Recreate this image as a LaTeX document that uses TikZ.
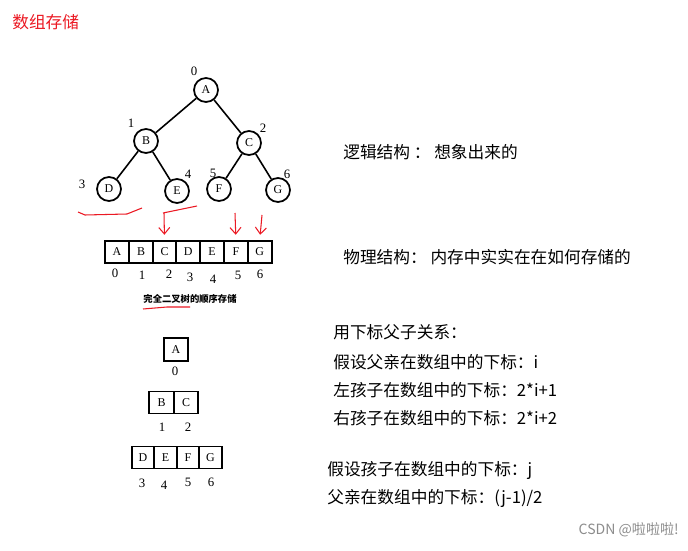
\documentclass[tikz,border=0pt]{standalone}
\usepackage{fontspec}
\setmainfont{Liberation Serif}
\newfontfamily\cjk{Noto Sans CJK SC}
\usetikzlibrary{arrows.meta}
\definecolor{markred}{RGB}{235,25,35}
\definecolor{wmgray}{RGB}{140,140,140}

\begin{document}
\begin{tikzpicture}[
  x=0.02cm,y=-0.02cm,
  vert/.style={draw,circle,line width=1pt,minimum size=0.48cm,inner sep=0pt,font=\fontsize{6.8}{7}\selectfont},
  edge/.style={line width=0.9pt},
  idx/.style={inner sep=0pt,font=\fontsize{7.3}{8}\selectfont},
  cell/.style={draw,line width=1.1pt,minimum width=0.476cm,minimum height=0.44cm,inner sep=0pt,font=\fontsize{6.8}{7}\selectfont},
  scell/.style={cell,minimum width=0.45cm},
  txt/.style={anchor=west,inner sep=0pt,font=\cjk\fontsize{9.5}{11}\selectfont},
  redline/.style={markred,line width=0.6pt},
  redarr/.style={redline,-{Straight Barb[length=1.3mm,width=2.2mm]},shorten >=3pt}
]
\useasboundingbox (0,0) rectangle (688,550);

\node[anchor=west,inner sep=0pt,text=markred,font=\cjk\fontsize{9.5}{11}\selectfont] (title) at (12,22) {数组存储};

% logical structure: the tree
\node[vert] (A) at (206,90) {A};
\node[vert] (B) at (146,141) {B};
\node[vert] (C) at (249,143) {C};
\node[vert] (D) at (109,189) {D};
\node[vert] (E) at (177,191) {E};
\node[vert] (F) at (219,189) {F};
\node[vert] (G) at (278,190) {G};
\draw[edge] (A) -- (B);
\draw[edge] (A) -- (C);
\draw[edge] (B) -- (D);
\draw[edge] (B) -- (E);
\draw[edge] (C) -- (F);
\draw[edge] (C) -- (G);

\node[idx] (t0) at (194,71) {0};
\node[idx] (t1) at (131,123) {1};
\node[idx] (t2) at (263,128) {2};
\node[idx] (t3) at (82,184) {3};
\node[idx] (t4) at (188,174) {4};
\node[idx] (t5) at (213,173) {5};
\node[idx] (t6) at (287,174) {6};

% physical structure: the array
\node[cell] (a0) at (117,252) {A};
\node[cell] (a1) at (141,252) {B};
\node[cell] (a2) at (164.5,252) {C};
\node[cell] (a3) at (188.3,252) {D};
\node[cell] (a4) at (212.1,252) {E};
\node[cell] (a5) at (235.9,252) {F};
\node[cell] (a6) at (259.7,252) {G};

\node[idx] (i0) at (115,273) {0};
\node[idx] (i1) at (142,275) {1};
\node[idx] (i2) at (169,274) {2};
\node[idx] (i3) at (190,277) {3};
\node[idx] (i4) at (213,279) {4};
\node[idx] (i5) at (238,275) {5};
\node[idx] (i6) at (260,274) {6};

\node[font=\cjk\bfseries\fontsize{5.3}{6}\selectfont,inner sep=0pt] (cap) at (190,299) {完全二叉树的顺序存储};

% red marks
\draw[redline] (78,212) -- (85,215) -- (127,214) -- (142,208);
\draw[redline] (197,206) -- (163,213);
\draw[redarr] (164,213) -- (a2.north);
\draw[redarr] (235,213) -- (a5.north);
\draw[redarr] (262,215) -- (a6.north);
\draw[redline] (143,309) -- (167,307) -- (190,307);

% level by level
\node[scell,minimum width=0.468cm,minimum height=0.454cm] (l0) at (176,349.7) {A};
\node[idx] (j0) at (175,371) {0};

\node[scell,minimum width=0.49cm] (l1) at (161.7,402.5) {B};
\node[scell,minimum width=0.49cm] (l2) at (186.2,402.5) {C};
\node[idx] (j1) at (162,427) {1};
\node[idx] (j2) at (188,427) {2};

\node[scell] (l3) at (143,457.5) {D};
\node[scell] (l4) at (165.5,457.5) {E};
\node[scell] (l5) at (188,457.5) {F};
\node[scell] (l6) at (210.5,457.5) {G};
\node[idx] (j3) at (142,483) {3};
\node[idx] (j4) at (164,485) {4};
\node[idx] (j5) at (188,482) {5};
\node[idx] (j6) at (211,482) {6};

% explanations
\node[txt] (logic) at (343,152) {逻辑结构 ： 想象出来的};
\node[txt] (phys) at (343,257) {物理结构： 内存中实实在在如何存储的};
\node[txt] (rel) at (333,332) {用下标父子关系：};
\node[txt] (par) at (333,362) {假设父亲在数组中的下标：i};
\node[txt] (lc) at (333,390) {左孩子在数组中的下标：2*i+1};
\node[txt] (rc) at (333,418) {右孩子在数组中的下标：2*i+2};
\node[txt] (ch) at (327,470) {假设孩子在数组中的下标：j};
\node[txt] (pa) at (327,498) {父亲在数组中的下标：(j-1)/2};

\node[anchor=east,text=wmgray,inner sep=0pt,font=\cjk\fontsize{8}{9}\selectfont] (wm) at (679,530) {CSDN @啦啦啦!};

\end{tikzpicture}
\end{document}
